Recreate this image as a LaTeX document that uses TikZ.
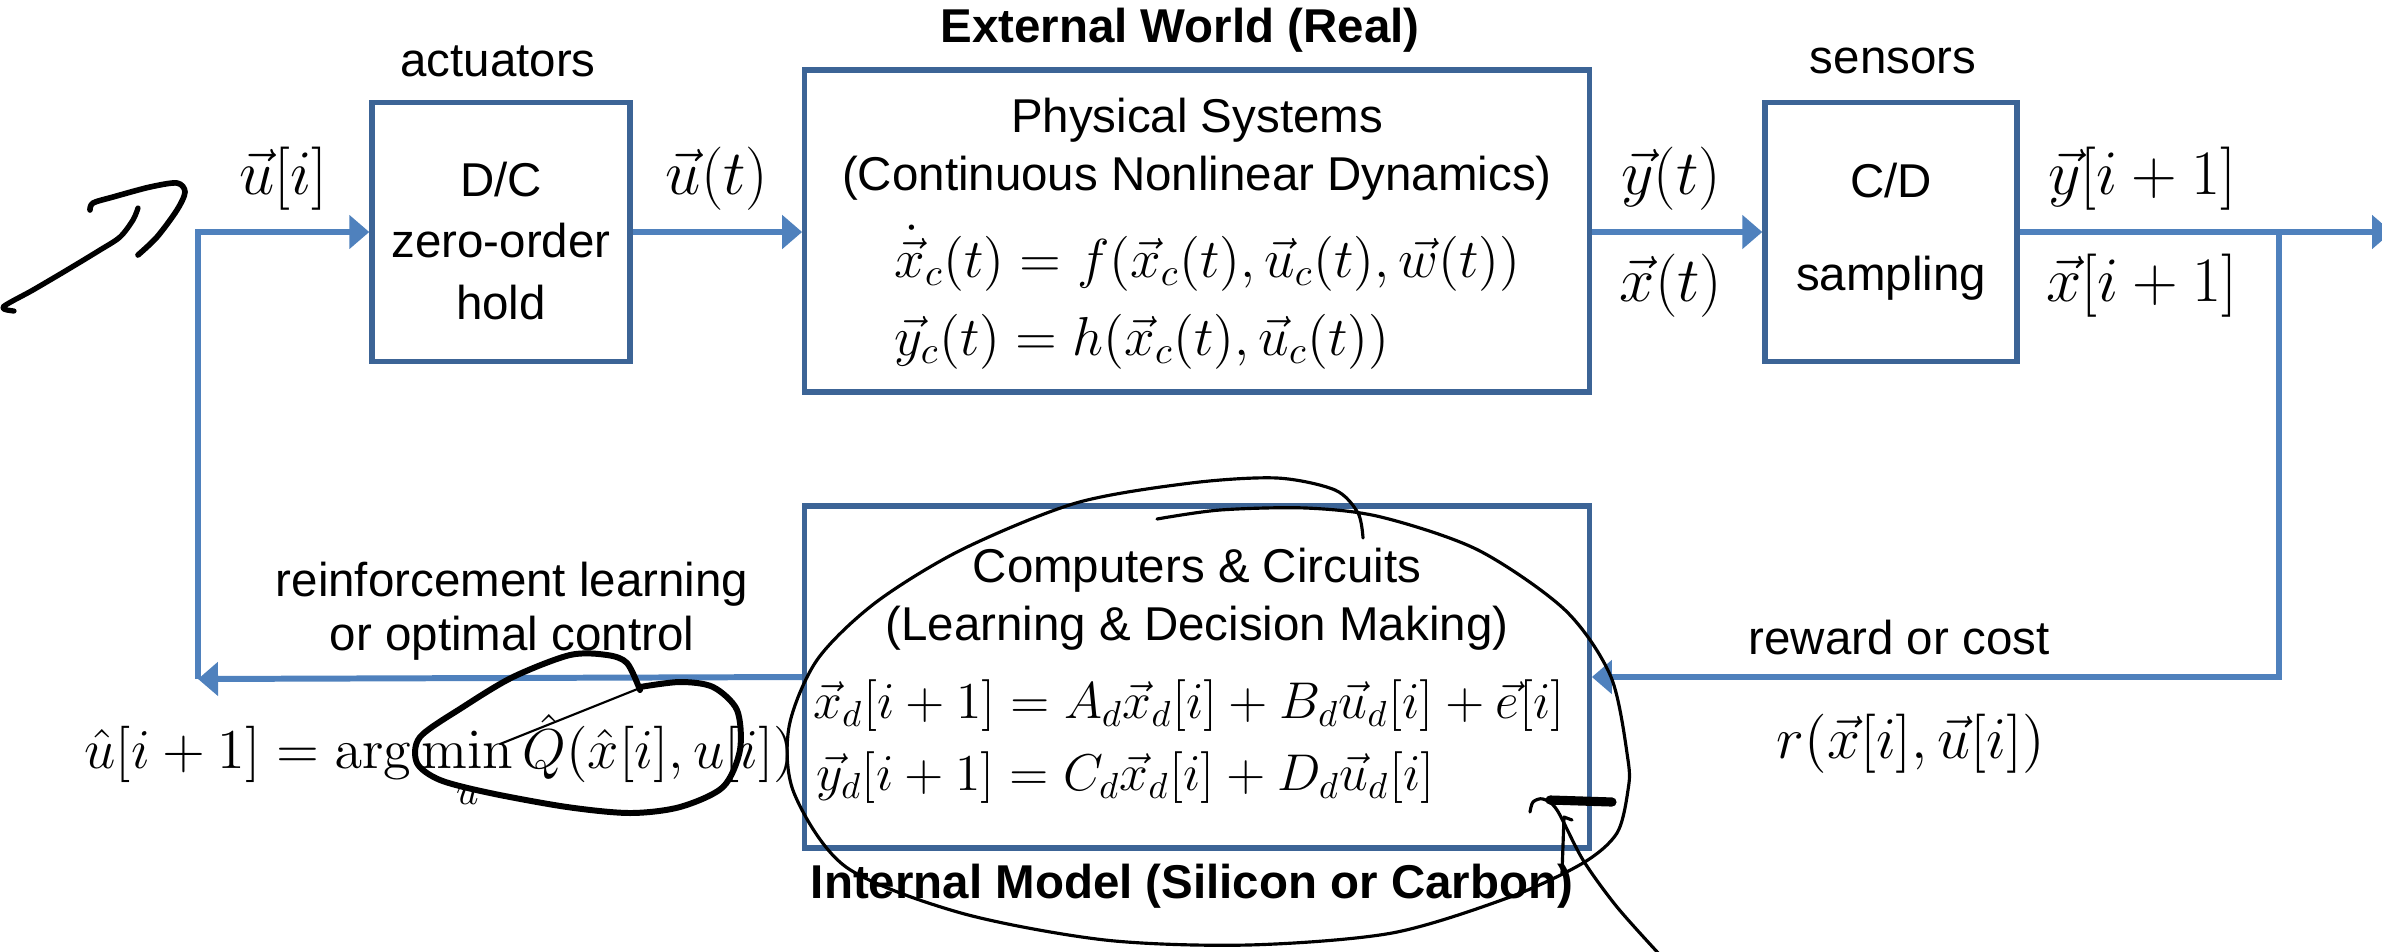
\documentclass[tikz,border=0pt]{standalone}
\usepackage{fix-cm}
\usepackage[no-math]{fontspec}
\setmainfont{Liberation Sans}
\usepackage{amsmath}
\usetikzlibrary{arrows.meta}
\definecolor{boxblue}{HTML}{3C6496}
\definecolor{lineblue}{HTML}{4F81BD}

\begin{document}
\begin{tikzpicture}[x=0.01cm,y=-0.01cm,
  blk/.style={draw=boxblue,line width=1.5pt,inner sep=0pt},
  flow/.style={draw=lineblue,line width=1.7pt,-{Triangle[length=0.2cm,width=0.33cm]}},
  lbl/.style={font=\fontsize{13.5}{16.5}\selectfont,align=center,inner sep=0pt},
  ttl/.style={font=\fontsize{13.5}{17}\selectfont\bfseries,inner sep=0pt},
  mth/.style={font=\fontsize{15.6}{18}\selectfont,inner sep=0pt},
  sig/.style={font=\fontsize{18}{21}\selectfont,inner sep=0pt},
  pen/.style={black,line width=1.3pt,line cap=round,line join=round}]
  \useasboundingbox (0,0) rectangle (2382,951);

  % blocks
  \node[blk,minimum width=2.58cm,minimum height=2.59cm] (dc) at (501,232) {};
  \node[blk,minimum width=7.84cm,minimum height=3.22cm] (phys) at (1197,231) {};
  \node[blk,minimum width=2.52cm,minimum height=2.59cm] (cd) at (1891,232) {};
  \node[blk,minimum width=7.84cm,minimum height=3.42cm] (comp) at (1197,677) {};

  \node[lbl,font=\fontsize{13.5}{17.5}\selectfont] (dcT) at (501,241) {D/C\\zero-order\\hold};
  \node[lbl] (cdT) at (1891,232) {C/D\\[10pt]sampling};
  \node[lbl] (act) at (498,61) {actuators};
  \node[ttl] (ext) at (1180,30) {External World (Real)};
  \node[lbl] (sen) at (1893,61) {sensors};
  \node[ttl] (intm) at (1192,886) {Internal Model (Silicon or Carbon)};

  % text inside the two big boxes
  \node[lbl] (physT) at (1197,149) {Physical Systems\\(Continuous Nonlinear Dynamics)};
  \node[mth,anchor=west] (physE1) at (894,258) {$\dot{\vec{x}}_c(t) = f(\vec{x}_c(t), \vec{u}_c(t), \vec{w}(t))$};
  \node[mth,anchor=west] (physE2) at (894,342) {$\vec{y}_c(t) = h(\vec{x}_c(t), \vec{u}_c(t))$};
  \node[lbl] (compT) at (1197,599) {Computers \& Circuits\\(Learning \& Decision Making)};
  \node[mth,font=\fontsize{14.7}{17}\selectfont,anchor=west] (compE1) at (813,706) {$\vec{x}_d[i+1] = A_d\vec{x}_d[i] + B_d\vec{u}_d[i] + \vec{e}[i]$};
  \node[mth,font=\fontsize{14.7}{17}\selectfont,anchor=west] (compE2) at (816,778) {$\vec{y}_d[i+1] = C_d\vec{x}_d[i] + D_d\vec{u}_d[i]$};

  % signal labels
  \node[sig] (ui) at (283,179) {$\vec{u}[i]$};
  \node[sig] (ut) at (717,179) {$\vec{u}(t)$};
  \node[sig] (yt) at (1671,179) {$\vec{y}(t)$};
  \node[sig] (xt) at (1671,286) {$\vec{x}(t)$};
  \node[sig] (yi) at (2142,179) {$\vec{y}[i+1]$};
  \node[sig] (xi) at (2142,286) {$\vec{x}[i+1]$};
  \node[lbl,font=\fontsize{13.5}{15.5}\selectfont] (rl) at (512,611) {reinforcement learning\\or optimal control};
  \node[mth,font=\fontsize{16}{19}\selectfont,anchor=base] (amin) at (440,768) {$\displaystyle \hat{u}[i+1] = \arg\min_{u} \hat{Q}(\hat{x}[i], u[i])$};
  \node[lbl] (rc) at (1899,638) {reward or cost};
  \node[mth,font=\fontsize{16.8}{19}\selectfont] (rew) at (1911,744) {$r(\vec{x}[i], \vec{u}[i])$};

  % connectors
  \coordinate (fbT) at (198,232);
  \coordinate (fbB) at (198,679);
  \coordinate (br) at (2279,232);
  \coordinate (out) at (2392,232);
  \draw[flow] (dc.east) -- (dc.east -| phys.west);
  \draw[flow] (phys.east |- cd.west) -- (cd.west);
  \draw[flow] (cd.east) -- (out);
  \draw[flow] (br) |- (comp.east);
  \draw[flow] (comp.west) -- (fbB);
  \draw[flow] (fbB) -- (fbT) -- (dc.west);

  % pen strokes on top
  \draw[pen,line width=1.5pt] plot[smooth] coordinates {(14,311) (3,307) (33,290) (67,270) (100,250) (120,237) (133,220) (138,208)};
  \draw[pen,line width=1.6pt] plot[smooth] coordinates {(90,210) (93,203) (113,197) (150,187) (177,183) (185,192) (177,210) (157,237) (138,255)};
  \draw[pen,line width=1.7pt] plot[smooth] coordinates {(640,690) (627,663) (607,655) (570,655) (513,677) (463,707) (420,737) (417,763) (440,780) (490,793) (567,807) (630,813) (680,807) (723,787) (740,750) (737,710) (713,687) (680,682) (640,687)};
  \draw[pen,line width=0.6pt] (640,688) -- (500,744);
  \draw[pen,line width=0.9pt] plot[smooth] coordinates {(1157,519) (1220,510) (1306,508) (1381,517) (1478,550) (1565,610) (1611,677) (1628,760) (1628,790) (1617,833) (1583,863) (1510,897) (1392,933) (1248,945) (1105,940) (961,913) (846,867) (794,793) (789,727) (817,660) (875,603) (961,550) (1076,503) (1191,483) (1277,478) (1335,490) (1358,513) (1363,538)};
  \draw[pen,line width=2.6pt] (1550,800) -- (1612,802);
  \draw[pen,line width=0.9pt] plot[smooth] coordinates {(1530,812) (1533,802) (1543,799) (1557,810) (1583,860) (1617,907) (1660,955)};
  \draw[pen,line width=0.9pt] (1572,820) -- (1564,817) -- (1562,873);
\end{tikzpicture}
\end{document}
